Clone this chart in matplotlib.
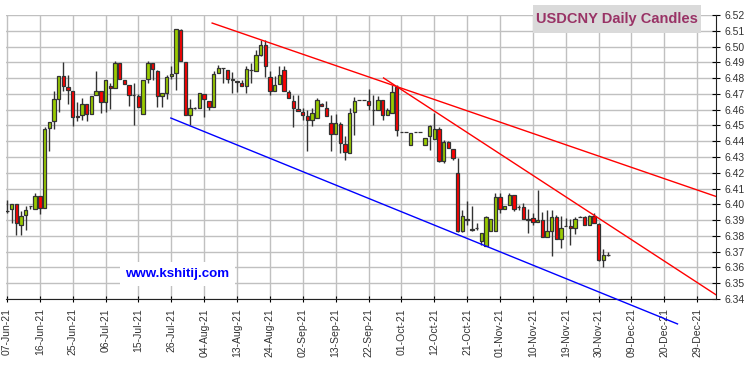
import numpy as np
import matplotlib
matplotlib.use("Agg")
import matplotlib.pyplot as plt
from matplotlib.patches import Rectangle

plt.rcParams['font.family'] = ['Liberation Sans', 'DejaVu Sans']

# daily candles, 07-Jun-21 .. 02-Dec-21 (one per weekday)
opens = [6.3955, 6.3970, 6.4001, 6.3867, 6.3932, 6.3987, 6.3970, 6.4050, 6.3976, 6.4483,
         6.4528, 6.4667, 6.4813, 6.4743, 6.4720, 6.4557, 6.4566, 6.4636, 6.4572, 6.4695,
         6.4720, 6.4648, 6.4748, 6.4737, 6.4898, 6.4790, 6.4756, 6.4693, 6.4686, 6.4572,
         6.4794, 6.4898, 6.4847, 6.4684, 6.4705, 6.4813, 6.4832, 6.5105, 6.4902, 6.4566,
         6.4610, 6.4610, 6.4699, 6.4657, 6.4617, 6.4832, 6.4862, 6.4851, 6.4790, 6.4781,
         6.4769, 6.4752, 6.4851, 6.4847, 6.4948, 6.5010, 6.4807, 6.4720, 6.4764, 6.4851,
         6.4712, 6.4655, 6.4604, 6.4583, 6.4557, 6.4536, 6.4547, 6.4636, 6.4610, 6.4513,
         6.4445, 6.4509, 6.4382, 6.4325, 6.4585, 6.4659, 6.4659, 6.4655, 6.4595, 6.4600,
         6.4663, 6.4568, 6.4579, 6.4745, 6.4458, 6.4458, 6.4378, 6.4458, 6.4458, 6.4378,
         6.4431, 6.4414, 6.4477, 6.4277, 6.4393, 6.4351, 6.4198, 6.3829, 6.3905, 6.3840,
         6.3850, 6.3766, 6.3734, 6.3829, 6.3829, 6.4044, 6.3970, 6.3998, 6.4057, 6.3984,
         6.3984, 6.3903, 6.3914, 6.3889, 6.3903, 6.3792, 6.3830, 6.3918, 6.3781, 6.3861,
         6.3865, 6.3851, 6.3918, 6.3918, 6.3872, 6.3929, 6.3876, 6.3650, 6.3676]
highs = [6.4029, 6.4001, 6.4001, 6.3955, 6.3987, 6.3991, 6.4071, 6.4050, 6.4490, 6.4521,
         6.4716, 6.4813, 6.4900, 6.4822, 6.4720, 6.4648, 6.4674, 6.4636, 6.4684, 6.4847,
         6.4720, 6.4788, 6.4769, 6.4910, 6.4898, 6.4790, 6.4756, 6.4771, 6.4700, 6.4788,
         6.4910, 6.4898, 6.4853, 6.4705, 6.4822, 6.4874, 6.5111, 6.5111, 6.4902, 6.4669,
         6.4615, 6.4705, 6.4699, 6.4657, 6.4847, 6.4883, 6.4862, 6.4851, 6.4836, 6.4781,
         6.4790, 6.4874, 6.4896, 6.4980, 6.5039, 6.5039, 6.4847, 6.4811, 6.4874, 6.4877,
         6.4726, 6.4690, 6.4692, 6.4610, 6.4600, 6.4610, 6.4671, 6.4640, 6.4652, 6.4566,
         6.4572, 6.4519, 6.4430, 6.4610, 6.4680, 6.4659, 6.4659, 6.4731, 6.4693, 6.4684,
         6.4663, 6.4610, 6.4758, 6.4758, 6.4458, 6.4458, 6.4452, 6.4458, 6.4458, 6.4420,
         6.4505, 6.4579, 6.4490, 6.4410, 6.4400, 6.4351, 6.4294, 6.3966, 6.4019, 6.3987,
         6.3882, 6.3819, 6.3924, 6.3909, 6.4072, 6.4072, 6.3991, 6.4072, 6.4057, 6.3998,
         6.4008, 6.3971, 6.3946, 6.4093, 6.3950, 6.3967, 6.3967, 6.3935, 6.3925, 6.3914,
         6.3904, 6.3920, 6.3925, 6.3925, 6.3935, 6.3945, 6.3882, 6.3714, 6.3697]
lows = [6.3944, 6.3880, 6.3805, 6.3807, 6.3838, 6.3970, 6.3970, 6.3938, 6.3976, 6.4335,
        6.4479, 6.4583, 6.4716, 6.4633, 6.4494, 6.4526, 6.4532, 6.4526, 6.4572, 6.4690,
        6.4578, 6.4583, 6.4604, 6.4737, 6.4794, 6.4762, 6.4621, 6.4500, 6.4617, 6.4572,
        6.4769, 6.4790, 6.4617, 6.4617, 6.4669, 6.4794, 6.4726, 6.4910, 6.4566, 6.4502,
        6.4605, 6.4610, 6.4553, 6.4600, 6.4617, 6.4832, 6.4769, 6.4769, 6.4705, 6.4710,
        6.4752, 6.4703, 6.4769, 6.4847, 6.4937, 6.4807, 6.4690, 6.4720, 6.4764, 6.4720,
        6.4671, 6.4493, 6.4589, 6.4536, 6.4335, 6.4494, 6.4547, 6.4621, 6.4561, 6.4335,
        6.4445, 6.4325, 6.4282, 6.4325, 6.4437, 6.4659, 6.4659, 6.4600, 6.4502, 6.4600,
        6.4537, 6.4568, 6.4579, 6.4431, 6.4458, 6.4458, 6.4378, 6.4458, 6.4458, 6.4378,
        6.4347, 6.4414, 6.4270, 6.4262, 6.4357, 6.4283, 6.3824, 6.3824, 6.3871, 6.3829,
        6.3840, 6.3745, 6.3734, 6.3829, 6.3829, 6.3945, 6.3970, 6.3998, 6.3955, 6.3966,
        6.3907, 6.3819, 6.3872, 6.3889, 6.3792, 6.3792, 6.3671, 6.3781, 6.3724, 6.3861,
        6.3745, 6.3809, 6.3918, 6.3872, 6.3872, 6.3882, 6.3644, 6.3604, 6.3670]
closes = [6.3960, 6.4001, 6.3880, 6.3929, 6.3964, 6.3987, 6.4050, 6.3976, 6.4477, 6.4521,
          6.4667, 6.4813, 6.4752, 6.4724, 6.4553, 6.4555, 6.4636, 6.4572, 6.4684, 6.4720,
          6.4648, 6.4788, 6.4737, 6.4898, 6.4794, 6.4762, 6.4695, 6.4690, 6.4617, 6.4788,
          6.4898, 6.4858, 6.4684, 6.4705, 6.4809, 6.4826, 6.5111, 6.4910, 6.4566, 6.4610,
          6.4610, 6.4705, 6.4667, 6.4617, 6.4826, 6.4862, 6.4862, 6.4794, 6.4790, 6.4776,
          6.4752, 6.4858, 6.4851, 6.4946, 6.5007, 6.4874, 6.4720, 6.4756, 6.4819, 6.4720,
          6.4671, 6.4610, 6.4589, 6.4566, 6.4536, 6.4578, 6.4663, 6.4621, 6.4561, 6.4445,
          6.4513, 6.4388, 6.4331, 6.4578, 6.4655, 6.4659, 6.4659, 6.4630, 6.4595, 6.4663,
          6.4568, 6.4600, 6.4709, 6.4473, 6.4458, 6.4458, 6.4452, 6.4458, 6.4458, 6.4420,
          6.4498, 6.4477, 6.4277, 6.4393, 6.4357, 6.4294, 6.3829, 6.3924, 6.3900, 6.3840,
          6.3848, 6.3819, 6.3918, 6.3909, 6.4044, 6.3970, 6.3991, 6.4057, 6.3970, 6.3982,
          6.3907, 6.3903, 6.3889, 6.3903, 6.3792, 6.3830, 6.3918, 6.3781, 6.3851, 6.3861,
          6.3851, 6.3908, 6.3918, 6.3872, 6.3925, 6.3882, 6.3650, 6.3676, 6.3680]

tick_labels = ['07-Jun-21', '16-Jun-21', '25-Jun-21', '06-Jul-21', '15-Jul-21', '26-Jul-21',
               '04-Aug-21', '13-Aug-21', '24-Aug-21', '02-Sep-21', '13-Sep-21', '22-Sep-21',
               '01-Oct-21', '12-Oct-21', '21-Oct-21', '01-Nov-21', '10-Nov-21', '19-Nov-21',
               '30-Nov-21', '09-Dec-21', '20-Dec-21', '29-Dec-21']

# trend lines: (trading-day index, price) end points
upper_x, upper_y = [43.7, 151.0], [6.5149, 6.4050]
steep_x, steep_y = [80.2, 151.5], [6.4801, 6.3417]
lower_x, lower_y = [34.9, 142.8], [6.4547, 6.3242]

o = np.array(opens); h = np.array(highs); l = np.array(lows); c = np.array(closes)
x = np.arange(len(o))
up = c >= o

fig = plt.figure(figsize=(7.5, 3.66), dpi=100)
ax = fig.add_axes([6/750, 1 - 299/366, 710/750, 284/366])

ax.vlines(x, l, h, color='#333333', lw=1, zorder=3)
body_h = np.maximum(np.abs(c - o), 0.00012)
ax.bar(x, body_h, bottom=np.minimum(o, c), width=0.72,
       color=np.where(up, '#99cc00', '#ff0000'), edgecolor='#333333', lw=0.9, zorder=4)

ax.plot(upper_x, upper_y, color='#ff0000', lw=1, zorder=5)
ax.plot(steep_x, steep_y, color='#ff0000', lw=1, zorder=5)
ax.plot(lower_x, lower_y, color='#0000ff', lw=1, zorder=5, clip_on=False)

ax.set_xlim(-0.2, 151.0)
ax.set_ylim(6.34, 6.52)
ax.set_xticks(np.arange(len(tick_labels)) * 7)
ax.set_xticklabels(tick_labels, rotation=90, fontsize=7.5, color='#333333')
yt = np.arange(634, 653) / 100
ax.set_yticks(yt)
ax.set_yticklabels(['%.2f' % v for v in yt], fontsize=7.5, color='#333333')
ax.yaxis.tick_right()
ax.tick_params(axis='y', direction='inout', length=6, pad=3, color='black')
ax.tick_params(axis='x', direction='inout', length=5, pad=4, color='black')
ax.grid(True, color='#c0c0c0', lw=1, zorder=0)
ax.set_axisbelow(True)
for s in ['left', 'top']:
    ax.spines[s].set_visible(False)
for s in ['right', 'bottom']:
    ax.spines[s].set_color('#222222')

# title box
fig.patches.append(Rectangle((533/750, 1 - 33.3/366), 168/750, 28.3/366,
                             transform=fig.transFigure, facecolor='#dadada',
                             edgecolor='none', zorder=10))
fig.text(617/750, 1 - 19.5/366, 'USDCNY Daily Candles', ha='center', va='center',
         fontsize=10.5, fontweight='bold', color='#993366', zorder=11)

ax.text(177.5/750, 1 - 274/366, 'www.kshitij.com', transform=fig.transFigure,
        ha='center', va='center', fontsize=9.6, fontweight='bold', color='#0000ff',
        zorder=12, bbox=dict(facecolor='white', edgecolor='none', pad=4))

fig.savefig('out.png', dpi=100)
